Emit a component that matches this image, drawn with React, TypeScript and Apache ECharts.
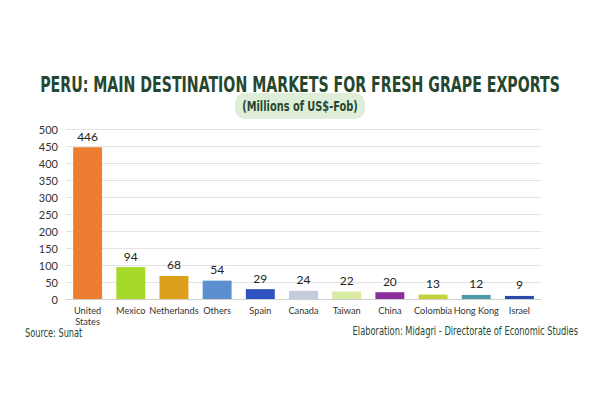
import React, { useEffect, useRef } from 'react';
import * as echarts from 'echarts';

const categories = [
  'United\nStates',
  'Mexico',
  'Netherlands',
  'Others',
  'Spain',
  'Canada',
  'Taiwan',
  'China',
  'Colombia',
  'Hong Kong',
  'Israel',
];
const values = [446, 94, 68, 54, 29, 24, 22, 20, 13, 12, 9];
const barColors = [
  '#ED7D31',
  '#A6D92A',
  '#DDA01B',
  '#5B8FD0',
  '#2E52BF',
  '#C5CBDD',
  '#D8E9A2',
  '#8B2F9C',
  '#C3D33B',
  '#4D9AA8',
  '#2B4BAA',
];

const TITLE_FONT = "'DejaVu Sans Condensed', sans-serif";
const LABEL_FONT = 'Lato';
const GREEN = '#25472f';

const App: React.FC = () => {
  const chartRef = useRef<HTMLDivElement>(null);

  useEffect(() => {
    document.body.style.margin = '0';
    if (!chartRef.current) return;
    const chart = echarts.init(chartRef.current, undefined, { renderer: 'svg' });

    chart.setOption({
      animation: false,
      backgroundColor: '#ffffff',
      grid: { left: 66, right: 59, top: 129, bottom: 101 },
      xAxis: {
        type: 'category',
        data: categories,
        axisLine: { lineStyle: { color: '#d0d0d0' } },
        axisTick: { show: false },
        axisLabel: {
          color: '#333',
          fontSize: 9.2,
          fontFamily: LABEL_FONT,
          interval: 0,
          margin: 6,
          lineHeight: 11,
        },
      },
      yAxis: {
        type: 'value',
        min: 0,
        max: 500,
        interval: 50,
        axisLine: { show: false },
        axisTick: { show: false },
        axisLabel: { color: '#333', fontSize: 11, fontFamily: LABEL_FONT, margin: 8 },
        splitLine: { lineStyle: { color: '#e3e3e3' } },
      },
      series: [
        {
          type: 'bar',
          barWidth: '67%',
          data: values.map((v, i) => ({ value: v, itemStyle: { color: barColors[i] } })),
          label: {
            show: true,
            position: 'top',
            distance: 5,
            color: '#222',
            fontSize: 12,
            fontFamily: LABEL_FONT,
          },
        },
      ],
      graphic: [
        {
          type: 'text',
          x: 300,
          y: 85,
          scaleX: 0.75,
          style: {
            text: 'PERU: MAIN DESTINATION MARKETS FOR FRESH GRAPE EXPORTS',
            fill: GREEN,
            font: `bold 21px ${TITLE_FONT}`,
            align: 'center',
            verticalAlign: 'middle',
          },
        },
        {
          type: 'rect',
          shape: { x: 235, y: 93, width: 130, height: 26, r: 10 },
          style: { fill: '#dfeed8' },
        },
        {
          type: 'text',
          x: 300,
          y: 106,
          scaleX: 0.78,
          style: {
            text: '(Millions of US$-Fob)',
            fill: GREEN,
            font: `bold 14px ${TITLE_FONT}`,
            align: 'center',
            verticalAlign: 'middle',
          },
        },
        {
          type: 'text',
          x: 25,
          y: 333,
          scaleX: 0.76,
          style: {
            text: 'Source: Sunat',
            fill: GREEN,
            font: `12px ${TITLE_FONT}`,
            verticalAlign: 'middle',
          },
        },
        {
          type: 'text',
          x: 578,
          y: 331,
          scaleX: 0.77,
          style: {
            text: 'Elaboration: Midagri - Directorate of Economic Studies',
            fill: GREEN,
            font: `12px ${TITLE_FONT}`,
            align: 'right',
            verticalAlign: 'middle',
          },
        },
      ],
    });

    return () => {
      chart.dispose();
    };
  }, []);

  return <div ref={chartRef} style={{ width: '600px', height: '400px' }} />;
};

export default App;
